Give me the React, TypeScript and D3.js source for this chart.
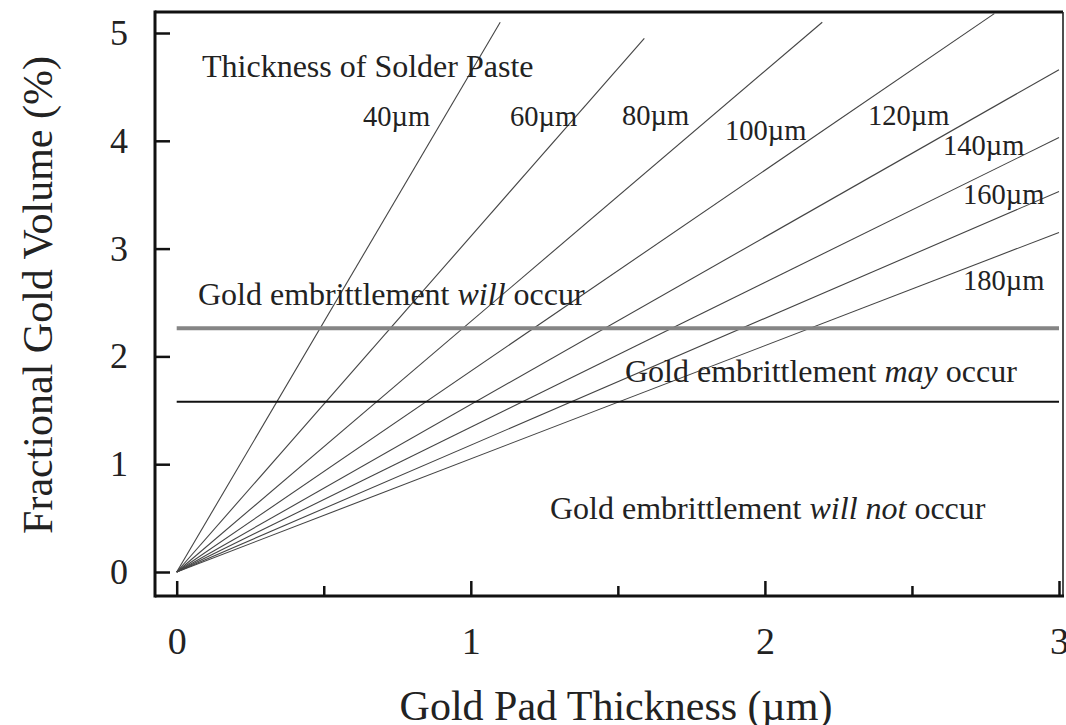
import React, { useRef, useEffect } from 'react';
import * as d3 from 'd3';

// solder paste thickness (µm) and where each line ends (gold pad µm, gold vol %)
const pasteThickness = [40, 60, 80, 100, 120, 140, 160, 180];
const endPad = [1.1, 1.59, 2.195, 2.78, 3.0, 3.0, 3.0, 3.0];
const endVolume = [5.1, 4.95, 5.1, 5.18, 4.66, 4.03, 3.53, 3.15];

const willOccurLevel = 2.26;
const mayOccurLevel = 1.58;

const xTicks = [0, 1, 2, 3];
const xMinorTicks = [0.5, 1.5, 2.5];
const yTicks = [0, 1, 2, 3, 4, 5];

const FONT = '"Liberation Serif", "Times New Roman", serif';

const App = () => {
  const svgRef = useRef<SVGSVGElement>(null);

  useEffect(() => {
    const width = 1066;
    const height = 725;
    const frame = { left: 155, right: 1063, top: 12, bottom: 596 };

    const svg = d3.select(svgRef.current)
      .attr('width', width)
      .attr('height', height)
      .style('font-family', FONT);

    svg.selectAll('*').remove();

    const x = d3.scaleLinear().domain([0, 3]).range([176.7, 1059]);
    const y = d3.scaleLinear().domain([0, 5]).range([572, 33]);

    // paste thickness lines from origin
    const line = d3.line<[number, number]>()
      .x(d => x(d[0]))
      .y(d => y(d[1]));

    svg.selectAll('.paste')
      .data(pasteThickness)
      .enter()
      .append('path')
      .attr('class', 'paste')
      .attr('d', (d, i) => line([[0, 0], [endPad[i], endVolume[i]]]))
      .attr('fill', 'none')
      .attr('stroke', '#444')
      .attr('stroke-width', 1.1);

    // threshold lines
    svg.append('line')
      .attr('x1', x(0)).attr('x2', x(3))
      .attr('y1', y(willOccurLevel)).attr('y2', y(willOccurLevel))
      .attr('stroke', '#858585')
      .attr('stroke-width', 4);

    svg.append('line')
      .attr('x1', x(0)).attr('x2', x(3))
      .attr('y1', y(mayOccurLevel)).attr('y2', y(mayOccurLevel))
      .attr('stroke', '#111')
      .attr('stroke-width', 2);

    // Y axis
    const yAxis = svg.append('g')
      .attr('transform', `translate(${frame.left},0)`)
      .call(d3.axisLeft(y).tickValues(yTicks).tickFormat(d3.format('d'))
        .tickSize(-15).tickSizeOuter(0).tickPadding(27));
    yAxis.select('.domain').remove();
    yAxis.selectAll('line').attr('stroke', '#111').attr('stroke-width', 2.5);
    yAxis.selectAll('text')
      .style('font-family', FONT)
      .style('font-size', '36px')
      .attr('fill', '#222');

    // X axis
    const xAxis = svg.append('g')
      .attr('transform', `translate(0,${frame.bottom})`)
      .call(d3.axisBottom(x).tickValues(xTicks).tickFormat(d3.format('d'))
        .tickSize(-15).tickSizeOuter(0).tickPadding(31));
    xAxis.select('.domain').remove();
    xAxis.selectAll('line').attr('stroke', '#111').attr('stroke-width', 2.5);
    xAxis.selectAll('text')
      .style('font-family', FONT)
      .style('font-size', '38px')
      .attr('fill', '#222');

    const xMinor = svg.append('g')
      .attr('transform', `translate(0,${frame.bottom})`)
      .call(d3.axisBottom(x).tickValues(xMinorTicks).tickFormat(() => '')
        .tickSize(-10).tickSizeOuter(0));
    xMinor.select('.domain').remove();
    xMinor.selectAll('line').attr('stroke', '#111').attr('stroke-width', 2.5);

    // frame
    svg.append('line')
      .attr('x1', frame.left).attr('x2', frame.right)
      .attr('y1', frame.top).attr('y2', frame.top)
      .attr('stroke', '#111').attr('stroke-width', 3);
    svg.append('line')
      .attr('x1', frame.right).attr('x2', frame.right)
      .attr('y1', frame.top).attr('y2', frame.bottom)
      .attr('stroke', '#222').attr('stroke-width', 1.6);
    svg.append('line')
      .attr('x1', frame.left).attr('x2', frame.left)
      .attr('y1', frame.top - 1.5).attr('y2', frame.bottom + 1.5)
      .attr('stroke', '#111').attr('stroke-width', 3);
    svg.append('line')
      .attr('x1', frame.left).attr('x2', frame.right + 1)
      .attr('y1', frame.bottom).attr('y2', frame.bottom)
      .attr('stroke', '#111').attr('stroke-width', 3);

    // line labels
    const labelPos = [
      [363, 126], [510, 126], [622, 125], [725, 140],
      [868, 125], [943, 155], [963, 204], [963, 290],
    ];
    svg.selectAll('.plabel')
      .data(pasteThickness)
      .enter()
      .append('text')
      .attr('class', 'plabel')
      .attr('x', (d, i) => labelPos[i][0])
      .attr('y', (d, i) => labelPos[i][1])
      .attr('font-size', 28.5)
      .attr('fill', '#222')
      .text(d => `${d}µm`);

    svg.append('text')
      .attr('x', 202).attr('y', 77)
      .attr('font-size', 32)
      .attr('fill', '#222')
      .text('Thickness of Solder Paste');

    // region labels with italic word
    const regions = [
      { pre: 'Gold embrittlement ', it: 'will', post: ' occur', x: 198, y: 305 },
      { pre: 'Gold embrittlement ', it: 'may', post: ' occur', x: 625, y: 382 },
      { pre: 'Gold embrittlement ', it: 'will not', post: ' occur', x: 550, y: 519 },
    ];
    regions.forEach(r => {
      const t = svg.append('text')
        .attr('x', r.x).attr('y', r.y)
        .attr('font-size', 32)
        .attr('fill', '#222')
        .attr('xml:space', 'preserve')
        .style('white-space', 'pre');
      t.append('tspan').text(r.pre);
      t.append('tspan').attr('font-style', 'italic').text(r.it);
      t.append('tspan').text(r.post);
    });

    // axis titles
    svg.append('text')
      .attr('x', (400 + 832) / 2).attr('y', 720)
      .attr('text-anchor', 'middle')
      .attr('font-size', 42)
      .attr('fill', '#222')
      .text('Gold Pad Thickness (µm)');

    svg.append('text')
      .attr('transform', `translate(52,${295}) rotate(-90)`)
      .attr('text-anchor', 'middle')
      .attr('font-size', 42)
      .attr('fill', '#222')
      .text('Fractional Gold Volume (%)');
  }, []);

  return (
    <svg ref={svgRef} style={{ position: 'absolute', left: 0, top: 0, background: '#fff' }}></svg>
  );
};

export default App;
